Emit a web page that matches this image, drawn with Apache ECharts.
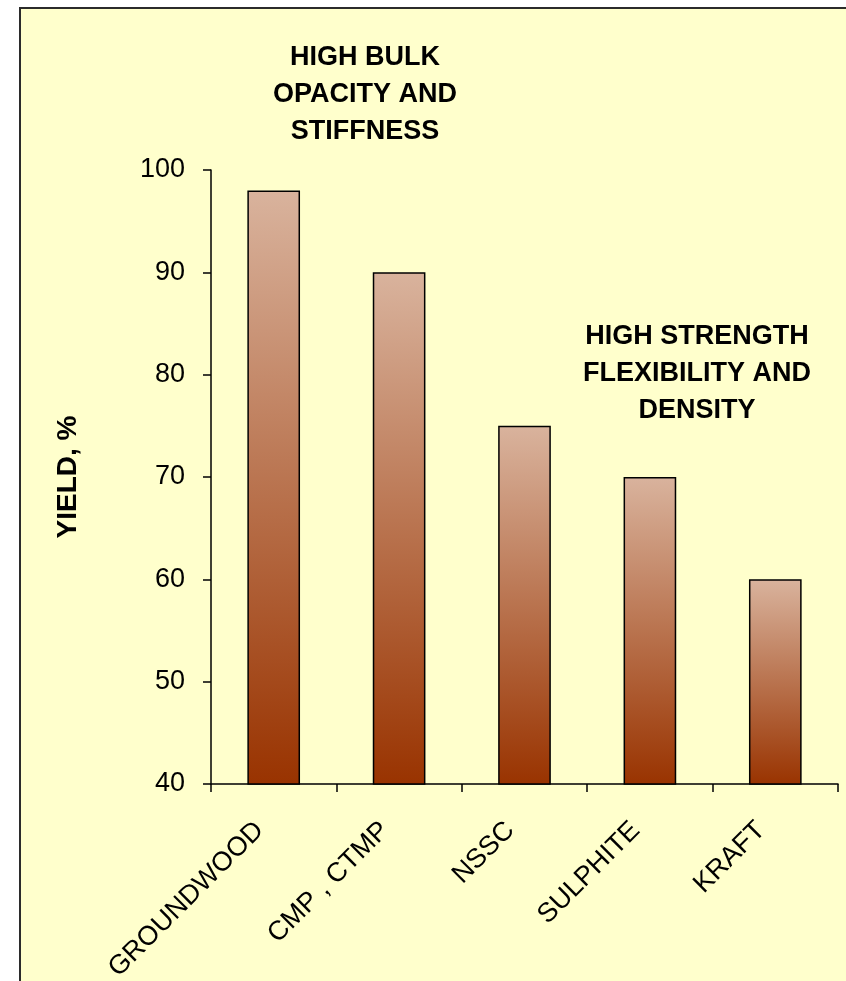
<!DOCTYPE html>
<html>
<head>
<meta charset="utf-8">
<title>Pulp yield by process</title>
<script src="https://cdn.jsdelivr.net/npm/echarts@6/dist/echarts.min.js"></script>
<style>
  html, body { margin: 0; padding: 0; background: #ffffff; overflow: hidden; width: 846px; height: 981px; }
  #frame {
    position: absolute; left: 19px; top: 7px; width: 827px; height: 974px;
    background: #FFFFCC; border-left: 2px solid #2b2b2b; border-top: 2px solid #2b2b2b;
    box-sizing: border-box;
  }
  #chart { position: absolute; left: 0; top: 0; width: 846px; height: 981px; }
</style>
</head>
<body>
<div id="frame"></div>
<div id="chart"></div>
<script>
// Pulping processes and their typical yield (%)
const categories = ['GROUNDWOOD', 'CMP , CTMP', 'NSSC', 'SULPHITE', 'KRAFT'];
const yieldValues = [98, 90, 75, 70, 60];
const yTicks = { min: 40, max: 100, step: 10 };
const axisTitle = 'YIELD, %';
const noteBulk = 'HIGH BULK\nOPACITY AND\nSTIFFNESS';
const noteStrength = 'HIGH STRENGTH\nFLEXIBILITY AND\nDENSITY';

const FONT = "'Liberation Sans', Arial, Helvetica, sans-serif";

const chart = echarts.init(document.getElementById('chart'), null, { renderer: 'canvas', width: 846, height: 981 });

chart.setOption({
  backgroundColor: 'transparent',
  animation: false,
  grid: { left: 211, top: 170, right: 8, bottom: 197, containLabel: false, outerBoundsMode: 'none' },
  xAxis: {
    type: 'category',
    data: categories,
    axisLine: { lineStyle: { color: '#000', width: 1.5 } },
    axisTick: { show: true, inside: false, length: 8, lineStyle: { color: '#000', width: 1.5 } },
    axisLabel: {
      rotate: 45,
      margin: 28,
      padding: [0, 20, 0, 0],
      color: '#000',
      fontFamily: FONT,
      fontSize: 27
    },
    splitLine: { show: false }
  },
  yAxis: {
    type: 'value',
    min: yTicks.min,
    max: yTicks.max,
    interval: yTicks.step,
    name: axisTitle,
    nameLocation: 'middle',
    nameGap: 129,
    nameTextStyle: { color: '#000', fontFamily: FONT, fontSize: 28, fontWeight: 'bold' },
    axisLine: { show: true, lineStyle: { color: '#000', width: 1.5 } },
    axisTick: { show: true, inside: false, length: 8, lineStyle: { color: '#000', width: 1.5 } },
    axisLabel: { margin: 26, color: '#000', fontFamily: FONT, fontSize: 27 },
    splitLine: { show: false }
  },
  series: [{
    type: 'bar',
    data: yieldValues,
    barWidth: '42%',
    itemStyle: {
      borderColor: '#000',
      borderWidth: 1.5,
      color: new echarts.graphic.LinearGradient(0, 0, 0, 1, [
        { offset: 0, color: '#D9B39D' },
        { offset: 1, color: '#993300' }
      ])
    }
  }],
  graphic: [
    {
      type: 'text', x: 365, y: 95, silent: true,
      style: {
        text: noteBulk, fontFamily: FONT, fontSize: 27, fontWeight: 'bold',
        fill: '#000', align: 'center', verticalAlign: 'middle', lineHeight: 37
      }
    },
    {
      type: 'text', x: 697, y: 374, silent: true,
      style: {
        text: noteStrength, fontFamily: FONT, fontSize: 27, fontWeight: 'bold',
        fill: '#000', align: 'center', verticalAlign: 'middle', lineHeight: 37
      }
    }
  ]
});
</script>
</body>
</html>
